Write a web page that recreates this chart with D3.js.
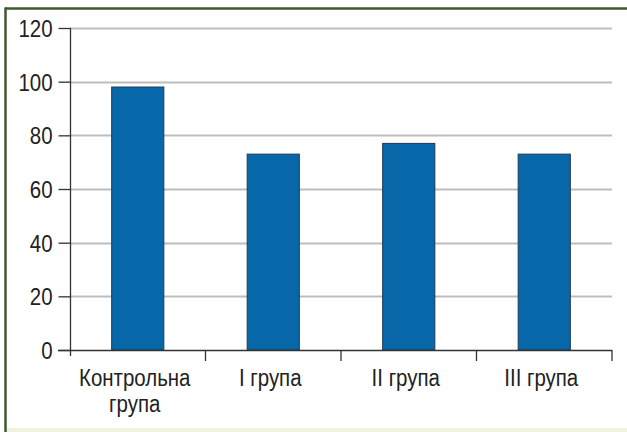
<!DOCTYPE html>
<html>
<head>
<meta charset="utf-8">
<script src="https://cdn.jsdelivr.net/npm/d3@7/dist/d3.min.js"></script>
<style>
  html, body { margin: 0; padding: 0; background: #ffffff; }
  svg { display: block; }
  text { font-family: "Liberation Sans", Arial, sans-serif; fill: #222; }
</style>
</head>
<body>
<svg id="chart" width="627" height="432"></svg>
<script>
// Groups and their measured values
const categories = ["Контрольна група", "I група", "II група", "III група"];
const values = [98, 73, 77, 73];
const yTicks = [0, 20, 40, 60, 80, 100, 120];

const W = 627, H = 432;
const FONT = 23.5;      // label size
const SQUEEZE = 0.87;   // horizontal condensing of the labels
const svg = d3.select("#chart");

// Panel background and frame
svg.append("rect").attr("x", 0).attr("y", 0).attr("width", W).attr("height", H).attr("fill", "#ffffff");
svg.append("rect").attr("x", 6).attr("y", 428).attr("width", W - 6).attr("height", 4).attr("fill", "#eef4df");
svg.append("line").attr("x1", 5).attr("x2", W).attr("y1", 8.5).attr("y2", 8.5)
  .attr("stroke", "#3f5a2e").attr("stroke-width", 2.5);
svg.append("line").attr("x1", 5.5).attr("x2", 5.5).attr("y1", 7.5).attr("y2", H)
  .attr("stroke", "#3f5a2e").attr("stroke-width", 2.5);

const x = d3.scaleBand().domain(categories).range([70, 612]).paddingInner(0.615).paddingOuter(0.3075);
const y = d3.scaleLinear().domain([0, 120]).range([350, 28]);

// Horizontal grid lines
svg.append("g").selectAll("line").data(yTicks.filter(d => d > 0)).join("line")
  .attr("x1", 70).attr("x2", 612)
  .attr("y1", d => Math.round(y(d)) + 0.5).attr("y2", d => Math.round(y(d)) + 0.5)
  .attr("stroke", "#bdbdbd").attr("stroke-width", 2);

// Bars
svg.append("g").selectAll("rect").data(values).join("rect")
  .attr("x", (d, i) => x(categories[i]))
  .attr("y", d => y(d))
  .attr("width", x.bandwidth())
  .attr("height", d => y(0) - y(d))
  .attr("fill", "#0767a8")
  .attr("stroke", "#1d3b55").attr("stroke-width", 1);

// Y axis
const yAxis = d3.axisLeft(y).tickValues(yTicks).tickSize(12).tickPadding(6);
const gy = svg.append("g").attr("transform", "translate(70.5,0)").call(yAxis);
gy.select(".domain").attr("stroke", "#333").attr("stroke-width", 1.3).attr("d", "M0,28V356");
gy.selectAll(".tick line").attr("stroke", "#333").attr("stroke-width", 1.3);
gy.selectAll(".tick text")
  .attr("font-size", FONT).attr("fill", "#222")
  .attr("dy", "0.36em")
  .style("font-family", "'Liberation Sans', Arial, sans-serif")
  .attr("transform", `translate(-18,0) scale(${SQUEEZE},1) translate(18,0)`);

// X axis baseline with category separators
const gx = svg.append("g");
gx.append("line").attr("x1", 58).attr("x2", 612).attr("y1", 350.5).attr("y2", 350.5)
  .attr("stroke", "#333").attr("stroke-width", 1.5);
const edges = categories.map(c => x(c) - x.step() * x.paddingInner() / 2).slice(1).concat([612]);
gx.selectAll("line.sep").data(edges).join("line").attr("class", "sep")
  .attr("x1", d => d).attr("x2", d => d).attr("y1", 350).attr("y2", 361)
  .attr("stroke", "#333").attr("stroke-width", 1.3);

// Category labels, wrapped onto two lines where needed
const labelX = d => x(d) + x.bandwidth() / 2 - 3;
const labels = gx.selectAll("text.cat").data(categories).join("text").attr("class", "cat")
  .attr("x", labelX)
  .attr("y", 386)
  .attr("text-anchor", "middle")
  .attr("font-size", FONT)
  .attr("transform", d => {
    const cx = labelX(d);
    return `translate(${cx},0) scale(${SQUEEZE},1) translate(${-cx},0)`;
  });
labels.each(function(d) {
  const t = d3.select(this);
  const parts = d === "Контрольна група" ? ["Контрольна", "група"] : [d];
  parts.forEach((p, i) => {
    t.append("tspan").attr("x", t.attr("x")).attr("dy", i === 0 ? 0 : 26).text(p);
  });
});
</script>
</body>
</html>
